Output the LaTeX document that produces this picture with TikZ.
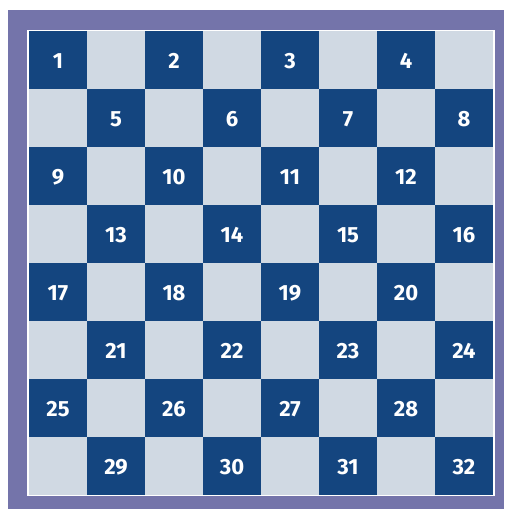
\documentclass[tikz,border=0pt]{standalone}
\usepackage{fontspec}
\setmainfont{Fira Sans}
\definecolor{frame}{HTML}{7474AA}
\definecolor{darkc}{HTML}{14457F}
\definecolor{lightc}{HTML}{D0D9E3}
\begin{document}
\begin{tikzpicture}[x=1pt,y=-1pt,
  num/.style={text=white,font=\fontsize{22}{22}\selectfont\bfseries,inner sep=0pt}]
\useasboundingbox (0,0) rectangle (504,509);
\fill[white] (0,0) rectangle (504,509);
\fill[frame] (8,10) rectangle (504,509);
\fill[white] (27,30) rectangle (495,496);
\foreach \r in {0,...,7}{
  \foreach \c in {0,...,7}{
    \pgfmathsetmacro{\xx}{29+58*\c}
    \pgfmathsetmacro{\yy}{31+58*\r}
    \pgfmathtruncatemacro{\parity}{mod(\r+\c,2)}
    \ifnum\parity=0
      \fill[darkc] (\xx,\yy) rectangle ++(58,58);
      \pgfmathtruncatemacro{\n}{\r*4+\c/2+1}
      \node[num] (n\n) at (\xx+29,\yy+30) {\n};
    \else
      \fill[lightc] (\xx,\yy) rectangle ++(58,58);
    \fi
  }
}
\end{tikzpicture}
\end{document}
